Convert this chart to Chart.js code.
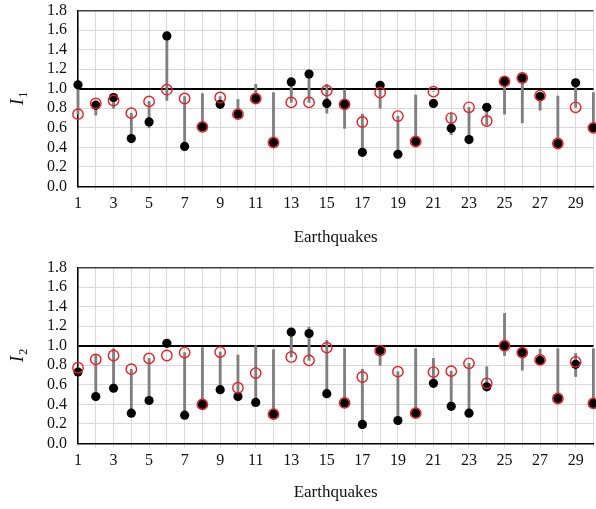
<!DOCTYPE html>
<html>
<head>
<meta charset="utf-8">
<script src="https://cdn.jsdelivr.net/npm/chart.js@4.4.0/dist/chart.umd.min.js"></script>
<style>
  html, body { margin: 0; padding: 0; background: #fff; overflow: hidden; width: 596px; height: 509px; }
  canvas { display: block; }
</style>
</head>
<body>
<canvas id="chart-1" width="600" height="257"></canvas>
<canvas id="chart-2" width="600" height="252"></canvas>
<script>
const quakes = [1, 2, 3, 4, 5, 6, 7, 8, 9, 10, 11, 12, 13, 14, 15,
  16, 17, 18, 19, 20, 21, 22, 23, 24, 25, 26, 27, 28, 29, 30];
const yTicks = [0, 0.2, 0.4, 0.6, 0.8, 1.0, 1.2, 1.4, 1.6, 1.8];

// I1 panel
const i1Black = [1.04, 0.83, 0.91, 0.49, 0.66, 1.54, 0.41, 0.61, 0.84, 0.74, 0.90, 0.45, 1.07, 1.15, 0.85,
  0.84, 0.35, 1.035, 0.33, 0.46, 0.85, 0.595, 0.48, 0.81, 1.075, 1.11, 0.92, 0.44, 1.06, 0.60];
const i1Red = [0.74, 0.85, 0.88, 0.75, 0.87, 0.99, 0.90, 0.61, 0.91, 0.74, 0.90, 0.45, 0.86, 0.86, 0.98,
  0.84, 0.66, 0.96, 0.72, 0.46, 0.97, 0.70, 0.81, 0.67, 1.075, 1.11, 0.93, 0.44, 0.81, 0.60];
const i1Low = [0.74, 0.73, 0.80, 0.49, 0.60, 0.88, 0.41, 0.61, 0.84, 0.74, 0.90, 0.45, 0.86, 0.86, 0.75,
  0.595, 0.35, 0.80, 0.33, 0.46, 0.97, 0.53, 0.48, 0.63, 0.74, 0.65, 0.78, 0.44, 0.81, 0.60];
const i1High = [1.04, 0.88, 0.95, 0.75, 0.87, 1.54, 0.92, 0.95, 0.92, 0.89, 1.045, 0.96, 1.07, 1.19, 1.045,
  0.99, 0.74, 1.035, 0.72, 0.935, 0.97, 0.75, 0.81, 0.81, 1.075, 1.11, 0.93, 0.925, 1.06, 0.96];

// I2 panel
const i2Black = [0.73, 0.48, 0.565, 0.31, 0.44, 1.025, 0.29, 0.40, 0.55, 0.48, 0.42, 0.30, 1.14, 1.125, 0.51,
  0.415, 0.195, 0.95, 0.235, 0.31, 0.615, 0.38, 0.31, 0.58, 1.00, 0.93, 0.85, 0.46, 0.81, 0.41];
const i2Red = [0.775, 0.86, 0.90, 0.76, 0.87, 0.90, 0.93, 0.40, 0.935, 0.57, 0.72, 0.30, 0.885, 0.85, 0.98,
  0.415, 0.68, 0.95, 0.735, 0.31, 0.73, 0.74, 0.82, 0.615, 1.00, 0.93, 0.855, 0.46, 0.835, 0.41];
const i2Low = [0.73, 0.48, 0.565, 0.31, 0.44, 1.025, 0.29, 0.40, 0.55, 0.48, 0.42, 0.30, 0.885, 0.85, 0.51,
  0.415, 0.195, 0.80, 0.235, 0.31, 0.615, 0.38, 0.31, 0.58, 0.90, 0.75, 0.85, 0.46, 0.685, 0.41];
const i2High = [0.775, 0.905, 0.97, 0.76, 0.87, 1.025, 0.93, 0.98, 0.935, 0.905, 1.00, 0.96, 1.14, 1.19, 1.055,
  0.97, 0.76, 0.95, 0.735, 0.97, 0.87, 0.74, 0.82, 0.785, 1.33, 0.93, 0.965, 0.97, 0.92, 0.97];

const FONT = "'Liberation Serif', 'DejaVu Serif', serif";
const GRID = '#d9d9d9';
Chart.defaults.font.family = FONT;
Chart.defaults.color = '#111';

// rotated y title: italic I with a subscript number
const yTitle = {
  id: 'yTitle',
  afterDraw(chart, args, opts) {
    const c = chart.ctx;
    const a = chart.chartArea;
    c.save();
    c.translate(23, (a.top + a.bottom) / 2);
    c.rotate(-Math.PI / 2);
    c.fillStyle = '#111';
    c.textBaseline = 'alphabetic';
    c.font = 'italic 19px ' + FONT;
    const w1 = c.measureText('I').width;
    c.font = '12px ' + FONT;
    const w2 = c.measureText(opts.sub).width;
    const x0 = -(w1 + w2 + 1) / 2;
    c.font = 'italic 19px ' + FONT;
    c.fillText('I', x0, 0);
    c.font = '12px ' + FONT;
    c.fillText(opts.sub, x0 + w1 + 1, 4);
    c.restore();
  }
};

function makePanel(id, sub, black, red, low, high, titlePad) {
  new Chart(document.getElementById(id), {
    type: 'scatter',
    data: {
      datasets: [
        {
          label: 'red',
          data: quakes.map((q, i) => ({ x: q, y: red[i] })),
          pointRadius: 5.2,
          pointBackgroundColor: 'rgba(0,0,0,0)',
          pointBorderColor: '#ee1c25',
          pointBorderWidth: 1.4,
          order: 0,
          clip: false
        },
        {
          label: 'black',
          data: quakes.map((q, i) => ({ x: q, y: black[i] })),
          pointRadius: 4.6,
          pointBackgroundColor: '#000',
          pointBorderWidth: 0,
          order: 1,
          clip: false
        },
        {
          type: 'bar',
          label: 'range',
          data: quakes.map((q, i) => ({ x: q, y: [low[i], high[i]] })),
          backgroundColor: '#7f7f7f',
          borderWidth: 0,
          barThickness: 2.2,
          order: 2,
          clip: false
        }
      ]
    },
    options: {
      responsive: false,
      animation: false,
      layout: { padding: { left: 0, right: 2, top: 10.5, bottom: 0 } },
      plugins: {
        legend: { display: false },
        tooltip: { enabled: false },
        yTitle: { sub: sub }
      },
      scales: {
        x: {
          type: 'linear',
          min: 1,
          max: 30,
          offset: false,
          afterBuildTicks: (s) => { s.ticks = quakes.map(v => ({ value: v })); },
          afterFit: (s) => {
            s.height = s.chart.height - 186.5;
            s.paddingLeft = 0;
            s.paddingRight = 0;
          },
          grid: { color: GRID, lineWidth: 1, tickLength: 4, offset: false },
          border: { color: '#000', width: 1.5 },
          ticks: {
            autoSkip: false,
            maxRotation: 0,
            padding: 4,
            color: '#111',
            font: { family: FONT, size: 16 },
            callback: (v) => (v % 2 === 1 ? String(v) : '')
          },
          title: {
            display: true,
            text: 'Earthquakes',
            color: '#111',
            font: { family: FONT, size: 17 },
            padding: { top: 0, bottom: titlePad }
          }
        },
        y: {
          min: 0,
          max: 1.8,
          afterBuildTicks: (s) => { s.ticks = yTicks.map(v => ({ value: v })); },
          afterFit: (s) => {
            s.width = 78;
            s.paddingTop = 0;
            s.paddingBottom = 0;
          },
          grid: {
            drawTicks: false,
            color: (c) => {
              const v = c.tick ? c.tick.value : 0;
              if (Math.abs(v - 1) < 1e-6) return '#000';
              if (Math.abs(v - 1.8) < 1e-6) return '#404040';
              return GRID;
            },
            lineWidth: (c) => {
              const v = c.tick ? c.tick.value : 0;
              if (Math.abs(v - 1) < 1e-6) return 2;
              if (Math.abs(v - 1.8) < 1e-6) return 1.5;
              return 1;
            }
          },
          border: { color: '#000', width: 1.5 },
          ticks: {
            autoSkip: false,
            padding: 11,
            color: '#111',
            font: { family: FONT, size: 16 },
            callback: (v) => Number(v).toFixed(1)
          }
        }
      }
    },
    plugins: [yTitle]
  });
}

makePanel('chart-1', '1', i1Black, i1Red, i1Low, i1High, 9);
makePanel('chart-2', '2', i2Black, i2Red, i2Low, i2High, 6);
</script>
</body>
</html>
